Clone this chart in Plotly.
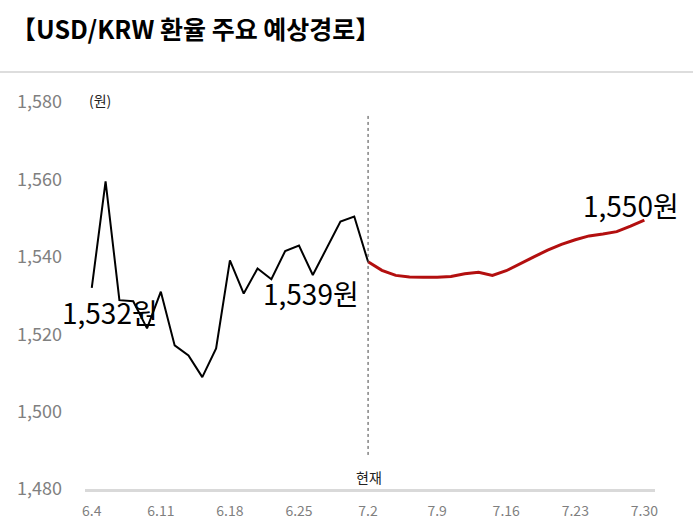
import plotly.graph_objects as go

tick_labels = ["6.4", "6.11", "6.18", "6.25", "7.2", "7.9", "7.16", "7.23", "7.30"]
y_ticks = [1480, 1500, 1520, 1540, 1560, 1580]

actual = [1532, 1559.5, 1528.8, 1528.5, 1521.5, 1531, 1517.1, 1514.5, 1508.9, 1516.3,
          1539.1, 1530.5, 1537, 1534.2, 1541.5, 1542.9, 1535.3, 1542.2, 1549.1, 1550.4, 1538.7]
forecast = [1538.7, 1536.5, 1535.2, 1534.8, 1534.7, 1534.7, 1534.9, 1535.6, 1536, 1535.2,
            1536.4, 1538.3, 1540, 1541.7, 1543.2, 1544.4, 1545.4, 1545.9, 1546.5, 1547.9, 1549.5]

x_actual = list(range(len(actual)))
x_fore = list(range(len(actual) - 1, len(actual) - 1 + len(forecast)))
tick_pos = [i * 5 for i in range(len(tick_labels))]

FONT = "Noto Sans CJK KR"
W, H = 693, 528
L, R, T, B = 85, 38, 102, 39
PW, PH = W - L - R, H - T - B


def px(x):
    return (x - L) / PW


def py(y):
    return 1 - (y - T) / PH


fig = go.Figure()
fig.add_trace(go.Scatter(x=x_actual, y=actual, mode="lines",
                         line=dict(color="black", width=2), hoverinfo="skip"))
fig.add_trace(go.Scatter(x=x_fore, y=forecast, mode="lines",
                         line=dict(color="#b30f0f", width=3), hoverinfo="skip"))

# current marker line
fig.add_shape(type="line", x0=20, x1=20, y0=1488.8, y1=1576.5, xref="x", yref="y",
              line=dict(color="#444444", width=1, dash="dot"))

def ann(x, y, text, size, color="black", xanchor="center"):
    fig.add_annotation(x=px(x), y=py(y), xref="paper", yref="paper", text=text,
                       showarrow=False, xanchor=xanchor, yanchor="middle",
                       font=dict(family=FONT, size=size, color=color))

ann(369, 477, "현재", 14, "#222222")
ann(110, 312, "1,532원", 28)
ann(311, 293, "1,539원", 28)
ann(631, 205, "1,550원", 28)
ann(100, 100, "(원)", 14, "#222222")
ann(9, 28, "<b>【USD/KRW 환율 주요 예상경로】</b>", 25, "black", xanchor="left")

fig.add_shape(type="line", x0=px(0), x1=px(W), y0=py(72), y1=py(72), xref="paper", yref="paper",
              line=dict(color="#dddddd", width=2))

fig.update_layout(
    width=W, height=H,
    margin=dict(l=L, r=R, t=T, b=B),
    paper_bgcolor="white", plot_bgcolor="white",
    showlegend=False,
    xaxis=dict(range=[-0.49, 40.77], tickvals=tick_pos, ticktext=tick_labels,
               showgrid=False, zeroline=False, showline=True, linecolor="#d9d9d9", linewidth=3,
               ticks="", ticklabelstandoff=7, automargin=False,
               tickfont=dict(family=FONT, size=14, color="#7f7f7f")),
    yaxis=dict(range=[1480, 1580], tickvals=y_ticks,
               ticktext=[f"{v:,}" for v in y_ticks],
               showgrid=False, zeroline=False, showline=False, ticks="",
               ticklabelstandoff=22, automargin=False,
               tickfont=dict(family=FONT, size=18, color="#808080")),
)

fig.write_html("out.html")
